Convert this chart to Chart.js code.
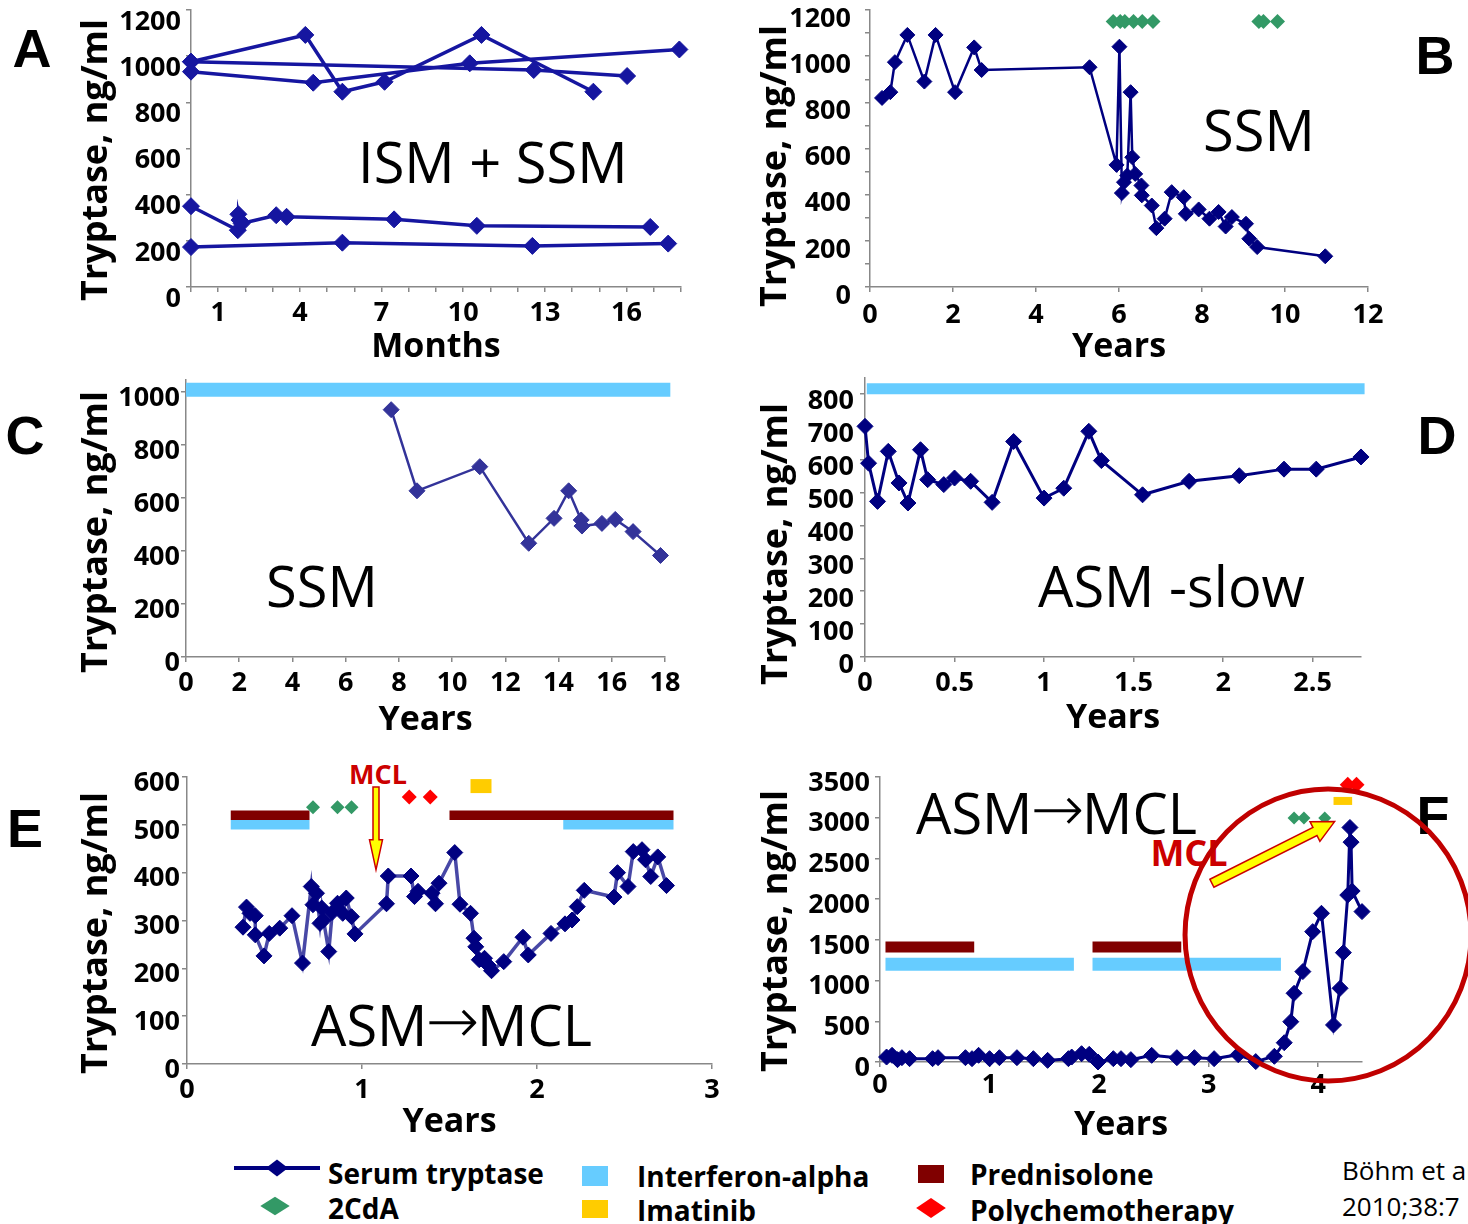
<!DOCTYPE html>
<html>
<head>
<meta charset="utf-8">
<title>Serum tryptase courses</title>
<script src="https://cdn.jsdelivr.net/npm/chart.js"></script>
<style>
  body { margin: 0; width: 1468px; height: 1224px; overflow: hidden; background: #fff; position: relative; font-family: 'Open Sans', sans-serif; }
  canvas { position: absolute; }
  .t { position: absolute; white-space: nowrap; line-height: 1; transform: translateY(-50%); }
  .c { transform: translate(-50%, -50%); }
  .letter { font-family: 'Liberation Sans', Arial, sans-serif; font-weight: bold; font-size: 54px; }
  .big { font-size: 56px; }
  .arr { font-family: 'DejaVu Sans', sans-serif; font-size: 64px; font-weight: 200; position: relative; top: -3px; margin: 0 -2px; }
  .mcl { color: #cc0000; font-weight: bold; }
  .leg { font-weight: bold; font-size: 28px; }
  .cite { font-size: 26px; }
  .sw { position: absolute; }
</style>
</head>
<body>

<div class="t c letter" style="left:32px;top:48px">A</div>
<div class="t c letter" style="left:1435px;top:55px">B</div>
<div class="t c letter" style="left:25px;top:435px">C</div>
<div class="t c letter" style="left:1437px;top:435px">D</div>
<div class="t c letter" style="left:25px;top:828px">E</div>
<div class="t c letter" style="left:1433px;top:815px">F</div>

<div class="t big" style="left:358px;top:161px">ISM + SSM</div>
<div class="t big" style="left:1203px;top:129px">SSM</div>
<div class="t big" style="left:266px;top:585px">SSM</div>
<div class="t big" style="left:1038px;top:585px">ASM -slow</div>
<div class="t big" style="left:311px;top:1024px">ASM<span class="arr">→</span>MCL</div>
<div class="t big" style="left:916px;top:812px">ASM<span class="arr">→</span>MCL</div>
<div class="t c mcl" style="left:378px;top:773px;font-size:27px">MCL</div>
<div class="t c mcl" style="left:1189px;top:853px;font-size:36px">MCL</div>

<!-- legend -->
<div class="sw" style="left:234px;top:1166px;width:86px;height:4px;background:#000080"></div>
<div class="sw" style="left:277px;top:1168px;width:12px;height:12px;background:#000080;transform:translate(-50%,-50%) scaleX(1.3) rotate(45deg)"></div>
<div class="t leg" style="left:328px;top:1173px">Serum tryptase</div>
<div class="sw" style="left:275px;top:1206px;width:13px;height:13px;background:#339966;transform:translate(-50%,-50%) scaleX(1.6) rotate(45deg)"></div>
<div class="t leg" style="left:328px;top:1208px">2CdA</div>
<div class="sw" style="left:582px;top:1166px;width:26px;height:20px;background:#66ccff"></div>
<div class="t leg" style="left:637px;top:1176px">Interferon-alpha</div>
<div class="sw" style="left:582px;top:1200px;width:26px;height:18px;background:#ffcc00"></div>
<div class="t leg" style="left:637px;top:1210px">Imatinib</div>
<div class="sw" style="left:918px;top:1165px;width:26px;height:18px;background:#800000"></div>
<div class="t leg" style="left:970px;top:1174px">Prednisolone</div>
<div class="sw" style="left:931px;top:1208px;width:14px;height:14px;background:#ff0000;transform:translate(-50%,-50%) scaleX(1.5) rotate(45deg)"></div>
<div class="t leg" style="left:970px;top:1210px">Polychemotherapy</div>
<div class="t cite" style="left:1342px;top:1170px">Böhm et al.</div>
<div class="t cite" style="left:1342px;top:1206px">2010;38:7</div>

<script>
// ---- A: ISM + SSM, months ----
const aMonths1 = [0, 4.2, 5.56, 7.11, 10.67, 14.78];
const aTryptase1 = [976, 1092, 846, 889, 1092, 846];
const aMonths2 = [0, 4.49, 10.24, 17.94];
const aTryptase2 = [933, 885, 969, 1029];
const aMonths3 = [0, 12.59, 16.02];
const aTryptase3 = [976, 940, 914];
const aMonths4 = [0, 1.72, 1.74, 1.78, 1.86, 3.13, 3.51, 7.46, 10.5, 16.87];
const aTryptase4 = [350, 246, 315, 290, 275, 311, 304, 293, 265, 260];
const aMonths5 = [0, 5.56, 12.54, 17.53];
const aTryptase5 = [173, 192, 178, 188];
const aMonthLabels = [1, 4, 7, 10, 13, 16];

// ---- B: SSM ----
const bYears = [0.29, 0.49, 0.6, 0.9, 1.31, 1.58, 2.05, 2.51, 2.69, 5.29, 5.94, 6.01, 6.07, 6.12, 6.2, 6.28, 6.32, 6.39, 6.54, 6.55,
                6.79, 6.9, 7.1, 7.27, 7.56, 7.61, 7.92, 8.18, 8.4, 8.57, 8.72, 9.06, 9.14, 9.33, 10.97];
const bTryptase = [819, 844, 974, 1092, 890, 1092, 844, 1038, 940, 952, 529, 1041, 407, 454, 483, 844, 562, 490, 440, 397,
                   353, 255, 296, 411, 389, 317, 336, 296, 325, 262, 303, 274, 209, 173, 133];
const b2cdaYears = [5.86, 6.03, 6.14, 6.35, 6.56, 6.82, 9.37, 9.48, 9.82];
const b2cdaLevel = 1150;

// ---- C: SSM ----
const cYears = [7.71, 8.68, 11.04, 12.88, 13.83, 14.38, 14.85, 14.88, 15.63, 16.13, 16.8, 17.83];
const cTryptase = [933, 627, 718, 429, 523, 627, 517, 494, 504, 519, 473, 383];
const cIfnStart = [0], cIfnEnd = [18.2], cIfnLevel = 1008;

// ---- D: ASM slow ----
const dYears = [0, 0.02, 0.07, 0.13, 0.19, 0.24, 0.31, 0.35, 0.44, 0.5, 0.59, 0.71, 0.83, 1.0, 1.11, 1.25, 1.32, 1.55, 1.81, 2.09, 2.34, 2.52, 2.77];
const dTryptase = [701, 589, 473, 625, 529, 468, 630, 539, 524, 544, 534, 470, 655, 483, 513, 686, 597, 493, 534, 551, 571, 571, 608];
const dIfnStart = [0.01], dIfnEnd = [2.79], dIfnLevel = 815;

// ---- E: ASM -> MCL ----
const eYears = [0.32, 0.34, 0.36, 0.39, 0.39, 0.44, 0.47, 0.53, 0.6, 0.66, 0.71, 0.72, 0.74, 0.76, 0.77, 0.78, 0.81, 0.83, 0.86, 0.89,
                0.91, 0.94, 0.96, 1.14, 1.15, 1.28, 1.3, 1.32, 1.4, 1.42, 1.44, 1.53, 1.56, 1.62, 1.64, 1.65, 1.67, 1.7, 1.72, 1.74,
                1.81, 1.92, 1.95, 2.08, 2.16, 2.2, 2.23, 2.27, 2.44, 2.46, 2.52, 2.55, 2.6, 2.62, 2.65, 2.69, 2.74];
const eTryptase = [286, 328, 315, 310, 270, 226, 273, 284, 310, 211, 371, 333, 357, 294, 326, 301, 235, 317, 336, 315,
                   347, 308, 272, 335, 393, 393, 350, 361, 357, 335, 378, 442, 334, 315, 263, 245, 218, 221, 207, 195,
                   214, 265, 228, 273, 293, 301, 329, 363, 349, 400, 371, 444, 448, 427, 392, 433, 373];
const ePredStart = [0.25, 1.5], ePredEnd = [0.7, 2.78], ePredLevel = 520;
const eIfnStart = [0.25, 2.15], eIfnEnd = [0.7, 2.78], eIfnLevel = 500;
const e2cdaYears = [0.72, 0.86, 0.94], e2cdaLevel = 537;
const ePolyYears = [1.27, 1.39], ePolyLevel = 558;
const eImaStart = [1.62], eImaEnd = [1.74], eImaLevel = 581;
const eMclYear = 1.08, eMclFrom = 579, eMclTo = 406;

// ---- F: ASM -> MCL ----
const fYears = [0.06, 0.11, 0.16, 0.2, 0.27, 0.48, 0.53, 0.78, 0.84, 0.9, 1.0, 1.09, 1.25, 1.4, 1.53, 1.72, 1.75, 1.84, 1.91, 1.99,
                2.13, 2.2, 2.29, 2.48, 2.71, 2.87, 3.05, 3.27, 3.43, 3.6, 3.69, 3.75, 3.78, 3.86, 3.95, 4.03, 4.14, 4.2, 4.23, 4.27,
                4.29, 4.3, 4.31, 4.4];
const fTryptase = [61, 82, 29, 53, 41, 41, 53, 53, 41, 82, 41, 53, 53, 41, 20, 41, 61, 102, 94, 0,
                   41, 41, 29, 82, 53, 53, 41, 90, 5, 70, 237, 495, 844, 1110, 1601, 1826, 455, 905, 1343, 2050,
                   2880, 2700, 2100, 1847];
const fPredStart = [0.05, 1.94], fPredEnd = [0.86, 2.75], fPredLevel = 1413;
const fIfnStart = [0.05, 1.94], fIfnEnd = [1.77, 3.66], fIfnLevel = 1201;
const f2cdaYears = [3.78, 3.87, 4.06], f2cdaLevel = 2997;
const fPolyYears = [4.27, 4.35], fPolyLevel = 3406;
const fImaStart = [4.14], fImaEnd = [4.31], fImaLevel = 3206;
const fCircleAt = [4.09, 1560];
const fArrowFrom = [3.03, 2195], fArrowTo = [4.15, 2952];

const FONT = "'Open Sans', sans-serif";
const NAVY = '#000080';

function series(xs, ys, color, lineColor, width, r) {
  return {
    data: xs.map((x, i) => ({ x: x, y: ys[i] })),
    borderColor: lineColor || color, borderWidth: width,
    pointStyle: 'rectRot', pointRadius: r, pointBorderWidth: 1,
    pointBackgroundColor: color, pointBorderColor: color,
    tension: 0, clip: false
  };
}
function markers(xs, level, color, r) {
  return {
    data: xs.map(x => ({ x: x, y: level })), showLine: false,
    pointStyle: 'rectRot', pointRadius: r, pointBorderWidth: 0,
    pointBackgroundColor: color, pointBorderColor: color, clip: false
  };
}
function bands(starts, ends, level, color, thick) {
  return starts.map((s, i) => ({
    data: [{ x: s, y: level }, { x: ends[i], y: level }],
    borderColor: color, borderWidth: thick, borderCapStyle: 'butt',
    pointRadius: 0, clip: false
  }));
}

function drawArrow(ctx, x1, y1, x2, y2, shaft, headW, headL) {
  const ang = Math.atan2(y2 - y1, x2 - x1), len = Math.hypot(x2 - x1, y2 - y1);
  ctx.save();
  ctx.translate(x1, y1);
  ctx.rotate(ang);
  ctx.beginPath();
  ctx.moveTo(0, -shaft / 2);
  ctx.lineTo(len - headL, -shaft / 2);
  ctx.lineTo(len - headL, -headW / 2);
  ctx.lineTo(len, 0);
  ctx.lineTo(len - headL, headW / 2);
  ctx.lineTo(len - headL, shaft / 2);
  ctx.lineTo(0, shaft / 2);
  ctx.closePath();
  ctx.fillStyle = '#ffff00';
  ctx.fill();
  ctx.strokeStyle = '#cc0000';
  ctx.lineWidth = 1.5;
  ctx.stroke();
  ctx.restore();
}

// area = page coords of the plot area; yTitle = page centre of the rotated y title; xTitleY = page centre of x title
function panel(area, c) {
  const padL = 150, padT = 40, padR = c.padR || 45, padB = 95;
  const cv = document.createElement('canvas');
  const cl = area.l - padL, ct = area.t - padT;
  cv.width = area.r - area.l + padL + padR;
  cv.height = area.b - area.t + padT + padB;
  cv.style.left = cl + 'px';
  cv.style.top = ct + 'px';
  document.body.appendChild(cv);
  const xTitleFont = { family: FONT, size: 34, weight: 'bold', lineHeight: 1.2 };
  const tickFont = { family: FONT, size: 27, weight: 'bold', lineHeight: 1.2 };
  const grid = { drawOnChartArea: false, drawTicks: true, tickLength: 5, color: '#888', lineWidth: 1.5 };
  const border = { color: '#888', width: 1.5 };
  new Chart(cv, {
    type: 'line',
    data: { datasets: c.datasets },
    options: {
      responsive: false, animation: false, devicePixelRatio: 1,
      layout: { padding: { top: padT, right: padR, left: 0, bottom: 0 } },
      plugins: { legend: { display: false }, tooltip: { enabled: false } },
      scales: {
        x: {
          type: 'linear', min: c.xMin, max: c.xMax, grid: grid, border: border,
          afterFit: s => { s.height = padB; },
          title: { display: true, text: c.xTitle, color: '#000', font: xTitleFont,
                   padding: { top: 0, bottom: (area.b + padB) - c.xTitleY - 34 * 0.6 } },
          ticks: { stepSize: c.xStep, autoSkip: false, maxRotation: 0, includeBounds: false,
                   color: '#000', font: tickFont, padding: c.xPad,
                   callback: c.xLabel || (v => String(Math.round(v * 100) / 100)) }
        },
        y: {
          min: 0, max: c.yMax, grid: grid, border: border,
          afterFit: s => { s.width = padL; },
          ticks: { stepSize: c.yStep, autoSkip: false, includeBounds: false,
                   color: '#000', font: tickFont, padding: c.yPad, labelOffset: c.yOff,
                   callback: c.yLabel || (v => String(v)) }
        }
      }
    },
    plugins: [{ id: 'annot', afterDatasetsDraw(chart) {
      const ctx = chart.ctx;
      ctx.save();
      if (c.draw) c.draw(ctx, chart.scales.x, chart.scales.y);
      // rotated y-axis title
      ctx.translate(c.yTitle[0] - cl, c.yTitle[1] - ct);
      ctx.rotate(-Math.PI / 2);
      ctx.font = "bold 36px " + FONT;
      ctx.fillStyle = '#000';
      ctx.textAlign = 'center';
      ctx.textBaseline = 'middle';
      ctx.fillText('Tryptase, ng/ml', 0, 0);
      ctx.restore();
    } }]
  });
}

// A
const aColor = '#1616a0';
panel({ l: 191, t: 10, r: 681, b: 287 }, {
  datasets: [
    series(aMonths1, aTryptase1, aColor, null, 3.5, 8.5),
    series(aMonths2, aTryptase2, aColor, null, 3.5, 8.5),
    series(aMonths3, aTryptase3, aColor, null, 3.5, 8.5),
    series(aMonths4, aTryptase4, aColor, null, 3.5, 8.5),
    series(aMonths5, aTryptase5, aColor, null, 3.5, 8.5)
  ],
  xMin: 0, xMax: 18, xStep: 1, xPad: 5, xTitle: 'Months', xTitleY: 347,
  xLabel: v => aMonthLabels.includes(v) ? String(v) : '',
  yMax: 1200, yStep: 200, yPad: 5, yOff: 12, yTitle: [97, 160]
});

// B
panel({ l: 870, t: 10, r: 1368, b: 287 }, {
  datasets: [
    series(bYears, bTryptase, NAVY, null, 2.5, 7.5),
    markers(b2cdaYears, b2cdaLevel, '#339966', 7.5)
  ],
  xMin: 0, xMax: 12, xStep: 2, xPad: 7, xTitle: 'Years', xTitleY: 347,
  yMax: 1200, yStep: 100, yPad: 14, yOff: 9, yTitle: [776, 166],
  yLabel: v => v % 200 === 0 ? String(v) : ''
});

// C
panel({ l: 186, t: 380, r: 665, b: 657 }, {
  datasets: [
    series(cYears, cTryptase, '#333399', null, 2.5, 8),
    ...bands(cIfnStart, cIfnEnd, cIfnLevel, '#66ccff', 14)
  ],
  xMin: 0, xMax: 18, xStep: 2, xPad: 5, xTitle: 'Years', xTitleY: 720,
  yMax: 1045, yStep: 200, yPad: 1, yOff: 6, yTitle: [97, 532]
});

// D
panel({ l: 865, t: 378, r: 1361, b: 657 }, {
  datasets: [
    series(dYears, dTryptase, NAVY, null, 3, 8),
    ...bands(dIfnStart, dIfnEnd, dIfnLevel, '#66ccff', 11)
  ],
  xMin: 0, xMax: 2.77, xStep: 0.5, xPad: 5, xTitle: 'Years', xTitleY: 718,
  yMax: 848, yStep: 100, yPad: 6, yOff: 8, yTitle: [777, 544]
});

// E
panel({ l: 187, t: 777, r: 712, b: 1064 }, {
  datasets: [
    series(eYears, eTryptase, NAVY, 'rgba(40,40,150,0.85)', 3.5, 8),
    markers(e2cdaYears, e2cdaLevel, '#339966', 7),
    markers(ePolyYears, ePolyLevel, '#ff0000', 7.5),
    ...bands(eImaStart, eImaEnd, eImaLevel, '#ffcc00', 14),
    ...bands(ePredStart, ePredEnd, ePredLevel, '#800000', 9.5),
    ...bands(eIfnStart, eIfnEnd, eIfnLevel, '#66ccff', 9.5)
  ],
  xMin: 0, xMax: 3, xStep: 1, xPad: 5, xTitle: 'Years', xTitleY: 1122,
  yMax: 600, yStep: 100, yPad: 2, yOff: 6, yTitle: [97, 933],
  draw: (ctx, x, y) => {
    const px = x.getPixelForValue(eMclYear);
    drawArrow(ctx, px, y.getPixelForValue(eMclFrom), px, y.getPixelForValue(eMclTo), 6, 13, 30);
  }
});

// F
panel({ l: 880, t: 777, r: 1362, b: 1062 }, {
  padR: 115,
  datasets: [
    series(fYears, fTryptase, NAVY, null, 3, 8),
    markers(f2cdaYears, f2cdaLevel, '#339966', 6.5),
    markers(fPolyYears, fPolyLevel, '#ff0000', 8),
    ...bands(fImaStart, fImaEnd, fImaLevel, '#ffcc00', 8),
    ...bands(fPredStart, fPredEnd, fPredLevel, '#800000', 11),
    ...bands(fIfnStart, fIfnEnd, fIfnLevel, '#66ccff', 13)
  ],
  xMin: 0, xMax: 4.4, xStep: 1, xPad: 2, xTitle: 'Years', xTitleY: 1125,
  yMax: 3500, yStep: 500, yPad: 5, yOff: 6, yTitle: [777, 931],
  draw: (ctx, x, y) => {
    ctx.beginPath();
    ctx.ellipse(x.getPixelForValue(fCircleAt[0]), y.getPixelForValue(fCircleAt[1]), 143, 146, 0, 0, Math.PI * 2);
    ctx.strokeStyle = '#c00000';
    ctx.lineWidth = 5;
    ctx.stroke();
    drawArrow(ctx, x.getPixelForValue(fArrowFrom[0]), y.getPixelForValue(fArrowFrom[1]),
              x.getPixelForValue(fArrowTo[0]), y.getPixelForValue(fArrowTo[1]), 9, 22, 22);
  }
});
</script>
</body>
</html>
